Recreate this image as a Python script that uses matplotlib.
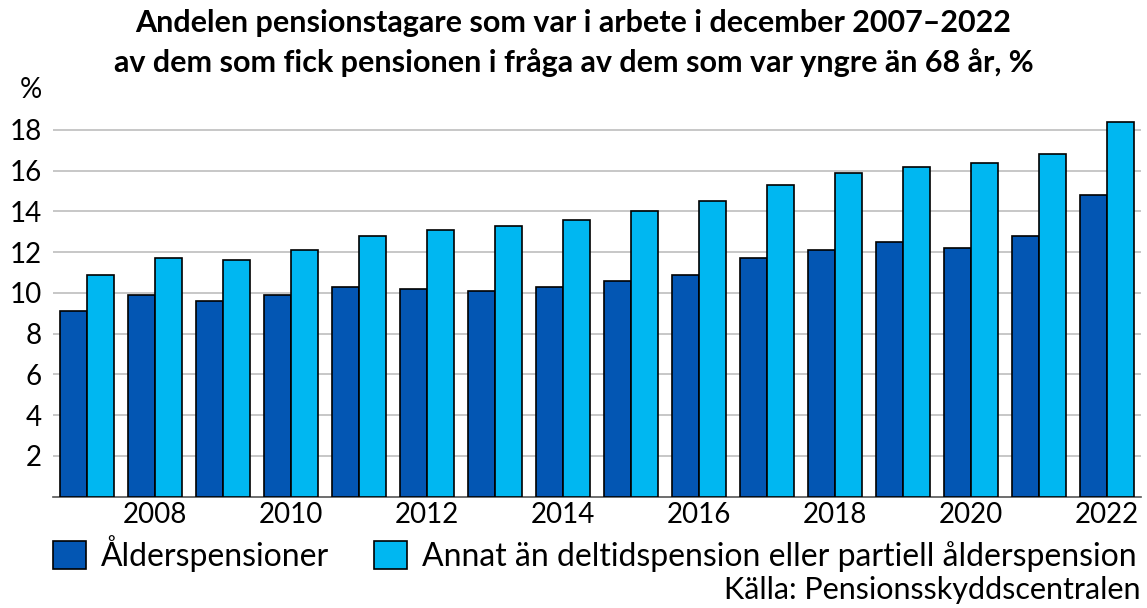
import numpy as np
import matplotlib.pyplot as plt

plt.rcParams['font.family'] = ['Lato', 'DejaVu Sans']

years = list(range(2007, 2023))
alders = [9.1, 9.9, 9.6, 9.9, 10.3, 10.2, 10.1, 10.3, 10.6, 10.9,
          11.7, 12.1, 12.5, 12.2, 12.8, 14.8]
annat = [10.9, 11.7, 11.6, 12.1, 12.8, 13.1, 13.3, 13.6, 14.0, 14.5,
         15.3, 15.9, 16.2, 16.4, 16.8, 18.4]
yticks = [2, 4, 6, 8, 10, 12, 14, 16, 18]
xticks = [2008, 2010, 2012, 2014, 2016, 2018, 2020, 2022]

dark = '#0356B3'
light = '#00B7F1'

fig = plt.figure(figsize=(11.47, 6.08), dpi=100)
ax = fig.add_axes([0.046, 0.183, 0.949, 0.62])

x = np.array(years)
w = 0.4
b1 = ax.bar(x - w / 2, alders, width=w, color=dark, edgecolor='black',
            linewidth=1.2, label='Ålderspensioner', zorder=3)
b2 = ax.bar(x + w / 2, annat, width=w, color=light, edgecolor='black',
            linewidth=1.2,
            label='Annat än deltidspension eller partiell ålderspension',
            zorder=3)

ax.set_xlim(2006.5, 2022.5)
ax.set_ylim(0, 18.5)
ax.set_yticks(yticks)
ax.set_xticks(xticks)
ax.tick_params(axis='both', length=0, labelsize=20)
ax.tick_params(axis='y', pad=8)
ax.tick_params(axis='x', pad=4)
ax.grid(axis='y', color='#BDBDBD', linewidth=1.2, zorder=0)
for s in ['left', 'right', 'top']:
    ax.spines[s].set_visible(False)
ax.spines['bottom'].set_color('#555555')
ax.spines['bottom'].set_linewidth(1.2)

fig.text(0.5, 0.962, 'Andelen pensionstagare som var i arbete i december 2007–2022',
         ha='center', va='center', fontsize=22, fontweight='bold')
fig.text(0.5, 0.897, 'av dem som fick pensionen i fråga av dem som var yngre än 68 år, %',
         ha='center', va='center', fontsize=22, fontweight='bold')
fig.text(0.027, 0.852, '%', ha='center', va='center', fontsize=20)

fig.legend(handles=[b1, b2], loc='center left', bbox_to_anchor=(0.046, 0.09),
           ncol=2, frameon=False, fontsize=23, handlelength=1.05,
           handleheight=1.0, handletextpad=0.45, columnspacing=1.4,
           borderaxespad=0, borderpad=0)
fig.text(0.994, 0.03, 'Källa: Pensionsskyddscentralen', ha='right',
         va='center', fontsize=22)

fig.savefig('out.png', dpi=100)
